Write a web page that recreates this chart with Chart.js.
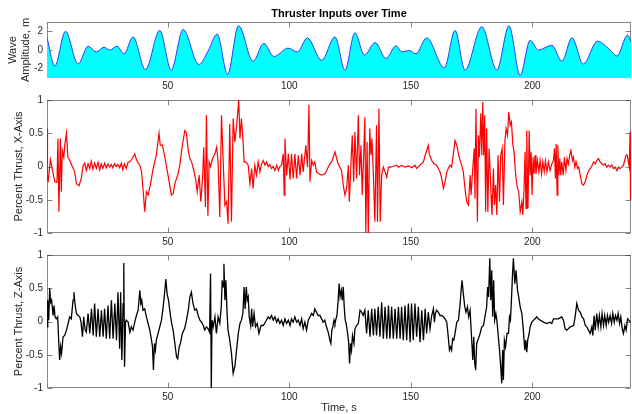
<!DOCTYPE html>
<html>
<head>
<meta charset="utf-8">
<script src="https://cdn.jsdelivr.net/npm/chart.js@4/dist/chart.umd.min.js"></script>
<style>
  html, body { margin: 0; padding: 0; background: #fff; }
  #wrap { position: relative; width: 632px; height: 414px; }
  canvas { position: absolute; left: 0; top: 0; }
</style>
</head>
<body>
<div id="wrap">
  <canvas id="c1" width="632" height="414"></canvas>
  <canvas id="c2" width="632" height="414"></canvas>
  <canvas id="c3" width="632" height="414"></canvas>
</div>
<script>
// ---------- data ----------
const chartTitle = 'Thruster Inputs over Time';
const timeTicks = [50, 100, 150, 200];
const timeTickLabels = ['50', '100', '150', '200'];
const waveTicks = [-2, 0, 2];
const waveTickLabels = ['-2', '0', '2'];
const thrustTicks = [-1, -0.5, 0, 0.5, 1];
const thrustTickLabels = ['-1', '-0.5', '0', '0.5', '1'];

// wave amplitude [time s, amplitude m]
const waveData = [[0.3,1.3],[3.5,-1.7],[7.9,2.0],[13.1,-1.5],[17.2,0.4],[20.6,-0.2],[23.8,0.3],[26.1,0.0],[29.1,0.4],[32.0,-0.4],[35.7,1.4],[40.8,-2.1],[46.7,2.1],[51.4,-2.15],[56.3,2.2],[62.8,-1.55],[66.6,-0.1],[70.3,1.7],[74.6,-2.6],[79.1,2.6],[85.1,-1.2],[89.5,0.7],[93.7,-0.7],[99.5,0.2],[103.4,-0.2],[107.4,1.3],[113.3,-1.1],[118.8,1.4],[122.9,-2.15],[127.0,1.85],[130.9,-0.55],[135.3,0.8],[139.8,-0.9],[143.9,0.45],[146.3,-0.2],[149.4,-0.05],[152.1,-0.4],[156.5,1.3],[163.8,-1.9],[168.2,2.1],[172.3,-2.15],[179.2,2.5],[185.4,-2.15],[190.4,2.6],[195.0,-2.7],[199.1,1.05],[202.5,0.0],[208.0,0.5],[212.2,-1.2],[216.3,1.3],[221.0,-1.5],[226.8,0.95],[232.0,0.0],[234.8,-0.65],[239.2,1.6],[240.6,0.85]];

// percent thrust, X axis [time s, value]
const xThrustData = [[0.3,0.57],[0.5,-0.2],[0.8,-0.22],[1.7,0.1],[2.8,-0.1],[3.5,-0.23],[4.4,-0.24],[4.8,0.42],[5.2,-0.68],[5.8,0.42],[6.2,-0.38],[6.6,0.24],[7.2,0.14],[7.6,0.32],[8.3,0.5],[8.9,0.14],[9.9,0.07],[10.7,0],[11.7,-0.08],[12.4,-0.26],[13.5,-0.29],[14.4,-0.18],[15.1,0],
[15.8,0.05],[16.5,-0.06],[17.2,0.04],[17.9,-0.03],[18.5,0.08],[19.2,-0.04],[19.9,0.05],[20.6,-0.03],[21.3,0.06],[22.0,-0.05],[22.6,0.04],[23.3,-0.03],[24.0,0.05],[24.7,-0.02],[25.4,0.04],[26.1,-0.01],[26.7,0.03],[27.4,-0.02],[28.1,0.04],[28.8,0],[29.5,0.03],[30.2,-0.02],[30.9,0.05],[31.5,-0.05],[32.2,0.04],[32.9,-0.03],[33.6,0.06],[34.4,0.07],
[35.4,0.12],[36.4,0.19],[37.1,0.1],[38.5,0.02],[39.2,-0.08],[39.8,-0.33],[40.5,-0.68],[41.2,-0.38],[41.9,-0.43],[42.9,-0.26],[44.0,-0.03],[45.3,0.17],[46.4,0.5],[46.9,0.32],[47.8,0.32],[48.8,0.14],[50.1,-0.13],[51.5,-0.43],[52.2,-0.41],[52.9,-0.26],[54.3,-0.1],[55.0,0.04],[56.0,0.32],[57.0,0.54],[57.7,0.5],[58.4,0.24],[59.1,0.12],[59.8,0.07],[60.7,-0.06],[61.5,-0.2],[62.1,-0.38],[62.9,-0.13],[63.6,-0.53],[64.3,-0.18],[64.8,0.29],[65.5,-0.61],[65.9,0.77],[66.5,-0.74],[67.0,0.07],[67.6,0],[68.4,0.12],[69.4,0.19],[70.1,0.29],[70.7,0.07],[71.4,-0.76],[72.1,0.77],[72.8,0.07],[73.5,-0.58],[74.2,-0.53],[74.8,-0.86],[75.5,0.64],[76.2,-0.83],[76.9,0.72],[77.6,0.37],[78.3,0.6],[79.2,1.0],
[79.7,0.42],[80.3,0.72],[81.0,0.37],[81.4,0.07],[82.1,0.07],[83.1,0.02],[83.8,-0.26],[84.5,-0.03],[85.1,-0.33],[85.8,0.02],[86.5,-0.13],[87.2,0.07],[87.9,-0.08],[88.6,0.04],[89.3,0.09],[90.0,0.02],[90.6,0.07],[91.3,0],[92.0,0.03],[92.7,-0.03],[93.4,0],[94.1,-0.06],[94.8,0.02],[95.5,-0.06],[96.1,0],[96.8,0.02],[97.5,0.19],[97.9,-0.43],[98.2,0.42],[98.9,-0.13],[99.6,0.19],[100.3,-0.2],[100.9,0.19],[101.6,-0.18],[102.3,0.19],[103.0,-0.18],[103.7,0.17],[104.4,-0.13],[105.1,0.19],[105.7,-0.08],[106.4,0.17],[106.8,0.32],[107.5,-0.01],[108.1,0.93],[108.5,-0.23],[109.2,0.09],[109.9,0.02],[110.5,0.07],[111.2,-0.08],[111.9,-0.1],[113.3,-0.13],[114.7,-0.11],[116.0,-0.01],[116.7,0.04],[117.4,0.07],[118.1,0.14],[118.8,0.22],[119.5,0.12],[120.1,0.04],[120.8,-0.01],[121.5,-0.06],[122.2,-0.28],[122.9,-0.43],[123.6,-0.33],[124.3,0.02],[124.7,-0.53],[125.4,0.07],[125.9,0.47],[126.5,-0.23],[127.0,0.52],[127.7,-0.18],[128.4,0.77],[128.9,-0.13],[129.5,0.32],[130.0,-0.43],[130.6,0.17],[131.1,0.74],[131.5,-1.0],[132.0,0.37],[132.5,-1.0],[133.1,0.57],[133.6,0.17],[134.0,0.42],[134.6,-0.13],[135.2,-0.83],[135.9,0.62],[136.3,-0.83],[136.9,0.87],[137.4,-0.83],[138.0,-0.13],[138.7,-0.01],[139.4,-0.08],[140.1,-0.16],[140.8,-0.01],[141.4,-0.01],[142.8,0],[144.2,0.02],[144.9,-0.01],[146.2,0.02],[147.6,-0.01],[149.0,0.01],[150.4,-0.02],[151.7,0.02],[152.4,-0.03],[153.8,0.02],[155.2,0.07],[155.9,0.17],[156.8,0.27],[157.2,0.32],[157.6,0.19],[158.6,0.09],[159.6,0.04],
[160.6,0.02],[161.3,-0.03],[162.0,-0.08],[162.7,-0.18],[163.4,-0.33],[164.1,-0.23],[164.8,-0.08],[165.4,-0.03],[166.1,0.02],[166.8,-0.01],[167.5,0.19],[168.2,0.39],[168.9,0.32],[169.6,0.19],[170.3,0.09],[170.9,0.02],[171.6,-0.08],[172.3,-0.33],[173.0,-0.53],[173.7,-0.58],[174.4,-0.13],[174.8,-0.43],[175.3,-0.13],[176.1,0.27],[176.4,-0.48],[176.8,0.87],[177.4,-0.83],[177.8,0.47],[178.2,0.14],[178.8,0.8],[179.2,0.17],[179.6,0.97],[180.0,0.17],[180.4,0.77],[180.8,-0.68],[181.2,0.57],[181.7,-0.68],[182.2,0.27],[182.6,-0.03],[183.0,-0.43],[183.4,-0.73],[184.0,-0.03],[184.4,-0.58],[184.9,-0.28],[185.4,-0.73],[185.9,0.17],[186.5,-0.53],[187.0,0.17],[187.6,0.27],[188.1,-0.58],[188.7,0.37],[189.2,0.57],[189.8,0.47],[190.3,0.82],[190.9,0.62],[191.4,0.67],[192.0,0.32],[192.5,0.22],[192.9,-0.01],[193.3,-0.18],[193.9,-0.33],[194.4,-0.38],[195.0,-0.68],[195.7,-0.53],[196.1,-0.73],[196.6,-0.33],[197.0,0.22],[197.4,-0.63],[197.7,0.54],[198.2,-0.63],[198.7,0.54],[199.1,-0.13],[199.5,0.22],[199.9,-0.43],[200.3,0.14],[200.7,-0.11],[201.1,0.17],[201.5,-0.11],[202.1,0.09],[202.7,-0.08],[203.2,0.09],[203.8,-0.11],[204.3,0.07],[204.9,-0.08],[205.4,0.09],[206.0,-0.08],[206.6,0.07],[207.3,-0.06],[208.0,0.04],[208.7,0.09],[209.1,0.27],[209.5,-0.18],[209.8,0.34],[210.2,-0.43],[210.5,0.32],[210.9,-0.13],[211.3,0.12],[211.7,-0.13],[212.1,0.07],[212.7,-0.13],[213.2,0.14],[213.8,-0.06],[214.3,0.12],[214.8,0.04],[215.5,0.19],[215.9,0.24],[216.5,0.09],[216.9,0.14],[217.5,-0.01],[218.0,0.07],[218.6,-0.03],[219.1,-0.01],[219.7,-0.13],[220.4,-0.26],[221.1,-0.28],[221.8,-0.23],[222.5,-0.13],[223.2,-0.06],[223.9,-0.03],[224.6,0.02],[225.2,0.07],[225.9,0.04],[226.5,0.09],[227.2,0.12],[227.9,0.07],[228.6,0.04],[229.3,0.02],[229.9,0.04],[230.6,-0.01],[231.3,0.02],[232.0,-0.01],[232.7,0.02],[233.4,-0.03],[234.1,-0.01],[234.8,-0.06],[235.4,-0.01],[236.1,-0.03],[236.8,-0.01],[237.5,0.02],[238.2,0.12],[238.6,0.17],[239.1,0.17],[239.5,0.07],[239.9,-0.01],[240.2,0.52],[240.4,-0.5],[240.6,0]];

// percent thrust, Z axis [time s, value]
const zThrustData = [[0.3,-0.08],[0.6,0.32],[1.0,0.02],[1.4,0.5],[1.8,0.29],[2.2,0.32],[2.8,0.09],[3.2,0.24],[3.6,0.07],[4.1,0.04],[4.7,0.07],[5.1,-0.28],[5.5,-0.58],[5.9,-0.38],[6.3,-0.48],[6.9,-0.23],[7.6,-0.21],[8.3,-0.13],[9.0,-0.03],[9.6,0.07],[10.3,0.04],[11.0,0.32],[11.4,0.44],[11.8,0.27],[12.4,0.12],[13.1,0.09],[13.8,0.07],[14.3,-0.01],[14.9,-0.23],[15.4,0.07],[16.0,-0.13],[16.5,-0.16],[17.2,0.12],[17.9,-0.18],[18.6,0.19],[19.3,-0.21],[19.9,0.27],[20.6,-0.23],[21.3,0.19],[22.0,-0.23],[22.7,0.17],[23.4,-0.23],[24.0,0.19],[24.7,-0.26],[25.4,0.24],[26.1,-0.26],[26.8,0.32],[27.5,-0.26],[28.2,0.27],[28.9,-0.28],[29.5,0.44],[30.2,-0.41],[30.6,0.44],[31.1,-0.58],[31.6,0.27],[31.9,0.88],[32.2,-0.68],[32.6,-0.01],[32.9,0.02],[33.7,-0.01],[34.4,-0.16],[35.0,-0.08],[35.7,-0.13],[36.4,-0.01],[37.1,0.09],[37.8,0.17],[38.5,0.47],[38.9,0.27],[39.3,0.32],[39.8,0.17],[40.5,0.19],[41.2,0.07],[41.9,-0.03],[42.6,-0.13],[43.3,-0.28],[43.7,-0.38],[44.1,-0.73],[44.5,-0.33],[44.9,-0.43],[45.3,-0.28],[46.0,-0.18],[46.7,-0.08],[47.4,0.02],[48.1,0.22],[48.8,0.47],[49.2,0.64],[49.7,0.42],[50.3,0.32],[50.8,0.17],[51.5,-0.01],[52.2,-0.13],[52.9,-0.33],[53.6,-0.53],[54.1,-0.56],[54.7,-0.38],[55.2,-0.33],[56.0,-0.18],[56.9,-0.11],[57.7,0.02],[58.5,0.19],[59.1,0.37],[59.7,0.44],[60.4,0.27],[61.1,0.17],[61.8,0.19],[62.5,0.09],[63.2,0.02],[63.9,-0.01],[64.6,-0.06],[65.2,-0.13],[65.9,-0.08],[66.6,-0.11],[67.2,-0.16],[67.6,0.72],[67.9,-1.0],[68.2,0.02],[68.7,-0.08],[69.4,0.07],[70.0,-0.18],[70.7,0.07],[71.4,-0.03],[72.0,0.22],[72.4,0.62],[72.8,0.52],[73.1,0.87],[73.5,0.32],[73.9,0.62],[74.4,0.12],[74.8,-0.13],[75.5,-0.28],[76.2,-0.48],[76.9,-0.78],[77.6,-0.68],[78.3,-0.43],[79.0,-0.18],[79.7,-0.03],[80.3,0.02],[80.9,0.12],[81.4,0.52],[81.8,0.19],[82.3,0.52],[82.7,0.32],[83.1,0.37],[83.5,0.07],[84.1,-0.06],[84.5,0.19],[84.9,-0.08],[85.5,0.12],[86.1,-0.08],[86.8,-0.03],[87.5,-0.18],[88.4,-0.06],[89.3,-0.06],[90.3,0.0],[91.3,0.07],[92.0,0.04],[92.7,0.09],[93.4,0.02],[94.1,0.07],[94.8,-0.01],[95.4,0.04],[96.1,-0.03],[96.8,0.02],[97.5,-0.06],[98.2,0.04],[98.9,-0.03],[99.6,0.02],[100.3,-0.06],[100.9,0.04],[101.6,-0.01],[102.3,0.07],[103.0,-0.01],[103.7,0.02],[104.4,-0.06],[105.1,0.04],[105.7,-0.11],[106.4,-0.01],[107.1,-0.13],[107.8,0.02],[108.5,0.07],[109.2,0.12],[109.9,0.09],[110.5,0.19],[111.2,0.14],[111.9,0.09],[112.6,0.09],[113.3,0.04],[113.9,-0.01],[114.6,0.02],[115.3,-0.08],[116.0,-0.16],[116.7,-0.28],[117.1,-0.33],[117.5,-0.13],[117.9,-0.08],[118.4,0.02],[118.8,-0.03],[119.2,0.04],[119.6,0.09],[120.1,0.32],[120.5,0.57],[120.9,0.37],[121.4,0.47],[121.8,0.32],[122.2,0.52],[122.6,0.22],[123.0,0.02],[123.4,-0.03],[124.0,-0.18],[124.4,-0.31],[124.8,-0.63],[125.2,-0.33],[125.6,-0.43],[126.0,-0.21],[126.6,-0.33],[127.0,-0.11],[127.7,-0.06],[128.4,-0.03],[129.1,0.17],[129.8,0.14],[130.4,0.09],[131.1,0.17],[131.8,-0.18],[132.5,0.17],[133.2,-0.23],[133.9,0.19],[134.6,-0.21],[135.2,0.19],[135.9,-0.21],[136.6,0.22],[137.3,-0.23],[138.0,0.29],[138.7,-0.26],[139.4,0.22],[140.1,-0.26],[140.8,0.24],[141.4,-0.26],[142.1,0.22],[142.8,-0.26],[143.5,0.19],[144.2,-0.26],[144.9,0.22],[145.6,-0.26],[146.2,0.22],[146.9,-0.28],[147.6,0.24],[148.3,-0.28],[149.0,0.27],[149.7,-0.31],[150.3,0.27],[151.0,-0.28],[151.7,0.27],[152.4,-0.23],[153.1,0.22],[153.8,-0.31],[154.5,0.17],[155.2,-0.28],[155.9,0.19],[156.5,-0.18],[157.2,0.14],[157.9,-0.11],[158.6,0.09],[159.3,0.19],[159.7,-0.01],[160.1,0.12],[160.6,0.17],[161.3,0.14],[162.0,0.09],[162.7,0.09],[163.4,0.07],[164.1,0.04],[164.8,-0.01],[165.4,-0.23],[165.9,-0.43],[166.4,-0.38],[166.8,-0.43],[167.2,-0.26],[167.7,-0.28],[168.2,-0.18],[168.9,-0.01],[169.6,0.02],[170.3,0.27],[170.7,0.47],[171.1,0.62],[171.6,0.42],[172.2,0.22],[172.7,0.14],[173.3,0.22],[173.8,0.07],[174.4,0.17],[174.9,-0.18],[175.5,-0.58],[175.9,-0.23],[176.3,-0.63],[176.7,-0.73],[177.1,-0.33],[177.8,-0.26],[178.5,-0.18],[179.2,-0.08],[179.9,-0.06],[180.6,0.09],[181.2,0.22],[181.6,0.52],[182.0,0.37],[182.5,0.95],[182.9,0.32],[183.3,0.77],[183.7,0.07],[184.1,0.62],[184.5,0.02],[185.0,0.12],[185.4,0.02],[185.9,-0.18],[186.5,-0.43],[187.0,-0.68],[187.4,-0.93],[187.8,-0.43],[188.1,-0.88],[188.5,-0.28],[189.0,-0.38],[189.6,-0.18],[190.2,-0.18],[190.6,0.07],[191.0,0.02],[191.4,0.32],[191.8,0.67],[192.2,0.95],[192.8,0.57],[193.3,0.77],[193.9,0.47],[194.4,0.37],[195.0,0.22],[195.7,0.12],[196.3,-0.13],[196.9,-0.43],[197.3,-0.28],[197.7,-0.46],[198.1,-0.28],[198.7,-0.18],[199.1,-0.08],[199.8,-0.01],[200.5,0.02],[201.1,0.04],[201.8,0.07],[202.5,0.04],[203.2,0.02],[204.6,-0.01],[206.0,-0.03],[207.3,-0.01],[208.0,-0.03],[208.7,0.04],[209.4,0.04],[210.1,0.04],[210.7,0.04],[212.1,0.07],[212.8,0.02],[213.5,-0.11],[214.2,-0.13],[215.6,-0.08],[217.0,-0.06],[217.6,0.07],[218.3,0.27],[219.0,0.17],[219.7,0.14],[220.4,0.07],[221.1,0.04],[221.8,-0.06],[222.4,-0.08],[223.1,-0.13],[223.8,-0.18],[224.5,-0.08],[224.9,-0.21],[225.4,0.09],[225.9,-0.13],[226.5,0.12],[227.1,-0.08],[227.6,0.09],[228.2,-0.08],[228.7,0.12],[229.3,-0.06],[229.8,0.09],[230.4,-0.06],[230.9,0.09],[231.4,-0.01],[232.0,0.09],[232.6,-0.03],[233.1,0.12],[233.7,-0.01],[234.2,0.09],[234.8,0.02],[235.3,0.12],[235.9,-0.03],[236.4,0.07],[237.0,-0.11],[237.5,-0.18],[238.1,-0.06],[238.6,-0.13],[239.2,0.04],[239.7,0.02],[240.3,-0.01]];

// ---------- rendering ----------
const FONT = "'Liberation Sans', Arial, Helvetica, sans-serif";
const TEXT = '#262626';
const FRAME = 'rgba(38,38,38,0.55)';

const framePlugin = {
  id: 'frame',
  beforeDatasetsDraw(chart) {
    const {ctx, chartArea: a, scales: {x, y}} = chart;
    ctx.save();
    ctx.strokeStyle = FRAME;
    ctx.lineWidth = 1;
    const L = Math.round(a.left) + 0.5, R = Math.round(a.right) - 0.5;
    const T = Math.round(a.top) + 0.5, B = Math.round(a.bottom) - 0.5;
    ctx.strokeRect(L, T, R - L, B - T);
    ctx.beginPath();
    x.ticks.forEach(t => {
      const px = Math.round(x.getPixelForValue(t.value)) + 0.5;
      ctx.moveTo(px, T); ctx.lineTo(px, T + 5);
      ctx.moveTo(px, B); ctx.lineTo(px, B - 5);
    });
    y.ticks.forEach(t => {
      const py = Math.round(y.getPixelForValue(t.value)) + 0.5;
      ctx.moveTo(L, py); ctx.lineTo(L + 5, py);
      ctx.moveTo(R, py); ctx.lineTo(R - 5, py);
    });
    ctx.stroke();
    ctx.restore();
  }
};

function toXY(arr) { return arr.map(p => ({x: p[0], y: p[1]})); }

function makeChart(id, o) {
  return new Chart(document.getElementById(id), {
    type: 'line',
    data: { datasets: [o.dataset] },
    plugins: [framePlugin],
    options: {
      responsive: false,
      animation: false,
      devicePixelRatio: 1,
      layout: { padding: o.padding },
      elements: { point: { radius: 0 } },
      plugins: {
        legend: { display: false },
        tooltip: { enabled: false },
        title: o.title || { display: false }
      },
      scales: {
        x: {
          type: 'linear', min: 0.3, max: 240.6,
          grid: { display: false, drawTicks: false }, border: { display: false },
          afterBuildTicks: s => { s.ticks = timeTicks.map(v => ({value: v})); },
          afterFit: s => { s.height = o.xHeight; },
          ticks: { color: TEXT, font: { family: FONT, size: 10 }, padding: o.xPad, maxRotation: 0,
                   callback: (v, i) => timeTickLabels[i] },
          title: o.xTitle || { display: false }
        },
        y: {
          type: 'linear', min: o.yMin, max: o.yMax,
          grid: { display: false, drawTicks: false }, border: { display: false },
          afterBuildTicks: s => { s.ticks = o.yTicks.map(v => ({value: v})); },
          afterFit: s => { s.width = 47; },
          ticks: { color: TEXT, font: { family: FONT, size: 10 }, padding: 4,
                   callback: (v, i) => o.yLabels[i] },
          title: { display: true, text: o.yTitle, color: TEXT,
                   font: { family: FONT, size: 11, lineHeight: '13px' }, padding: { top: o.yTitlePad, bottom: 0 } }
        }
      }
    }
  });
}

makeChart('c1', {
  dataset: { data: toXY(waveData), borderColor: 'rgb(40,60,250)', borderWidth: 1,
             backgroundColor: '#00ffff', fill: 'start', cubicInterpolationMode: 'monotone' },
  padding: { top: 0, left: 0, right: 1, bottom: 316 },
  title: { display: true, text: chartTitle, fullSize: false, color: '#000',
           font: { family: FONT, size: 11, weight: 'bold', lineHeight: '13px' }, padding: { top: 7, bottom: 2 } },
  xHeight: 20, xPad: 2,
  yMin: -3, yMax: 3, yTicks: waveTicks, yLabels: waveTickLabels,
  yTitle: ['Wave', 'Amplitude, m'], yTitlePad: 6
});

makeChart('c2', {
  dataset: { data: toXY(xThrustData), borderColor: '#ff0000', borderWidth: 1.2, fill: false, tension: 0 },
  padding: { top: 100, left: 0, right: 1, bottom: 161 },
  xHeight: 20, xPad: 3,
  yMin: -1, yMax: 1, yTicks: thrustTicks, yLabels: thrustTickLabels,
  yTitle: 'Percent Thrust, X-Axis', yTitlePad: 12
});

makeChart('c3', {
  dataset: { data: toXY(zThrustData), borderColor: '#000000', borderWidth: 1.3, fill: false, tension: 0 },
  padding: { top: 255, left: 0, right: 1, bottom: 0 },
  xHeight: 26, xPad: 3,
  xTitle: { display: true, text: 'Time, s', color: TEXT, font: { family: FONT, size: 11, lineHeight: '13px' }, padding: { top: 0, bottom: 0 } },
  yMin: -1, yMax: 1, yTicks: thrustTicks, yLabels: thrustTickLabels,
  yTitle: 'Percent Thrust, Z-Axis', yTitlePad: 12.5
});
</script>
</body>
</html>
